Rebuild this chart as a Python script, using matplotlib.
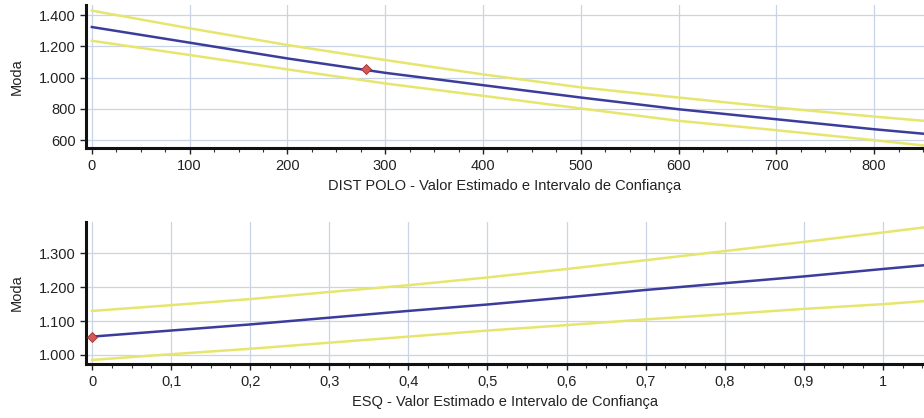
import matplotlib
matplotlib.use("Agg")
import matplotlib.pyplot as plt
from matplotlib.ticker import MultipleLocator, FuncFormatter

plt.rcParams['font.family'] = ['Liberation Sans', 'DejaVu Sans']

# Top panel: DIST POLO
dist_x = [0, 100, 200, 300, 400, 500, 600, 700, 800, 851]
dist_est = [1323, 1223, 1122, 1030, 951, 872, 797, 733, 669, 640]
dist_upper = [1428, 1315, 1208, 1112, 1020, 937, 872, 808, 750, 723]
dist_lower = [1235, 1144, 1052, 962, 883, 802, 723, 663, 599, 565]
dist_point = (280, 1054)

# Bottom panel: ESQ
esq_x = [0, 0.1, 0.2, 0.3, 0.4, 0.5, 0.6, 0.7, 0.8, 0.9, 1.0, 1.052]
esq_est = [1054, 1072, 1090, 1110, 1130, 1149, 1170, 1192, 1212, 1232, 1254, 1265]
esq_upper = [1130, 1147, 1165, 1186, 1206, 1229, 1254, 1280, 1307, 1334, 1362, 1377]
esq_lower = [985, 1002, 1018, 1036, 1054, 1072, 1088, 1105, 1120, 1136, 1150, 1159]
esq_point = (0, 1054)

dist_yticks = [600, 800, 1000, 1200, 1400]
esq_yticks = [1000, 1100, 1200, 1300]

BLUE = '#3c3c9c'
YELLOW = '#e6e66e'
GRID = '#c9d5e6'
RED = '#d45a5a'

W, H = 924, 418
fig = plt.figure(figsize=(W / 100, H / 100), dpi=100)

def thousands(v, pos):
    return f"{int(round(v)):,}".replace(",", ".")

def decomma(v, pos):
    s = f"{v:.1f}".replace(".", ",")
    if s.endswith(",0"):
        s = s[:-2]
    return s

def make_axes(l, t, r, b):
    return fig.add_axes([l / W, 1 - b / H, (r - l) / W, (b - t) / H])

def style(ax):
    for s in ['top', 'right']:
        ax.spines[s].set_visible(False)
    for s in ['left', 'bottom']:
        ax.spines[s].set_linewidth(2.2)
        ax.spines[s].set_color('#111111')
    ax.grid(True, color=GRID, linewidth=0.9)
    ax.set_axisbelow(True)
    ax.tick_params(axis='both', which='major', labelsize=10.5, colors='#222222', length=4, width=1)
    ax.tick_params(axis='x', which='minor', length=3, width=0.8, colors='#333333')
    ax.tick_params(axis='x', which='major', pad=4)
    ax.set_ylabel('Moda', fontsize=10.5, color='#222222')
    ax.yaxis.set_label_coords(-62 / (924 - 86), 0.5)

# top
ax1 = make_axes(86, 5, 924, 148)
ax1.plot(dist_x, dist_upper, color=YELLOW, lw=1.8)
ax1.plot(dist_x, dist_lower, color=YELLOW, lw=1.8)
ax1.plot(dist_x, dist_est, color=BLUE, lw=1.8)
ax1.plot([dist_point[0]], [dist_point[1]], marker='D', ms=5.5, color=RED, mec='#a03030', mew=0.6)
ax1.set_xlim(-6, 851)
ax1.set_ylim(549, 1464)
ax1.set_yticks(dist_yticks)
ax1.xaxis.set_major_locator(MultipleLocator(100))
ax1.xaxis.set_minor_locator(MultipleLocator(25))
ax1.yaxis.set_major_formatter(FuncFormatter(thousands))
style(ax1)
ax1.set_xlabel('DIST POLO - Valor Estimado e Intervalo de Confiança', fontsize=10.5, color='#222222', labelpad=4)

# bottom
ax2 = make_axes(86, 222, 924, 364)
ax2.plot(esq_x, esq_upper, color=YELLOW, lw=1.8)
ax2.plot(esq_x, esq_lower, color=YELLOW, lw=1.8)
ax2.plot(esq_x, esq_est, color=BLUE, lw=1.8)
ax2.plot([esq_point[0]], [esq_point[1]], marker='D', ms=5.5, color=RED, mec='#a03030', mew=0.6, clip_on=False, zorder=5)
ax2.set_xlim(-0.0076, 1.052)
ax2.set_ylim(973, 1393)
ax2.set_yticks(esq_yticks)
ax2.xaxis.set_major_locator(MultipleLocator(0.1))
ax2.xaxis.set_minor_locator(MultipleLocator(0.025))
ax2.xaxis.set_major_formatter(FuncFormatter(decomma))
ax2.yaxis.set_major_formatter(FuncFormatter(thousands))
style(ax2)
ax2.set_xlabel('ESQ - Valor Estimado e Intervalo de Confiança', fontsize=10.5, color='#222222', labelpad=4)

fig.savefig('out.png', dpi=100, facecolor='white')
